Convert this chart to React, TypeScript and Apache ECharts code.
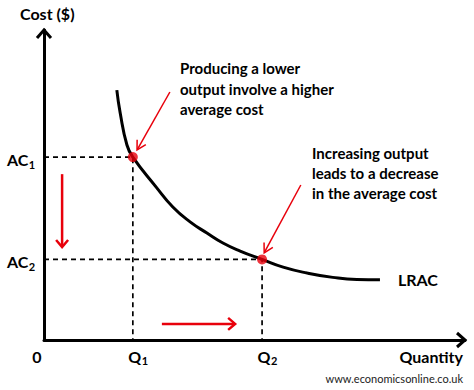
import React, { useEffect, useRef } from "react";
import * as echarts from "echarts";

// Chart values (abstract units, axes 0..10)
const X_MAX = 10;
const Y_MAX = 10;
const curveX = [1.73, 1.81, 1.97, 2.11, 2.66, 3.06, 3.47, 3.87, 4.25, 4.66, 5.18, 5.68, 6.25, 6.86, 7.43, 7.98];
const curveY = [8.06, 7.32, 6.29, 5.9, 4.94, 4.29, 3.81, 3.45, 3.13, 2.87, 2.6, 2.35, 2.16, 2.02, 1.95, 1.94];
const qValues = [2.11, 5.18];
const acValues = [5.9, 2.6];
const subLabels = ["1", "2"];
const curveLabel = "LRAC";
const xTitle = "Quantity";
const yTitle = "Cost ($)";
const annotation1 = ["Producing a lower", "output involve a higher", "average cost"];
const annotation2 = ["Increasing output", "leads to a decrease", "in the average cost"];
const sourceText = "www.economicsonline.co.uk";
// arrows: [fromX, fromY, toX, toY] in data units
const moveArrows = [
  [0.43, 5.35, 0.43, 3.0],
  [2.8, 0.52, 4.54, 0.52],
];
const pointerArrows = [
  [2.99, 8.0, 2.21, 6.13],
  [6.1, 5.0, 5.23, 2.81],
];

const RED = "#e8000b";
const FONT = "Lato, 'Open Sans', sans-serif";

function measure(text: string, size: number, weight: number) {
  const c = document.createElement("canvas").getContext("2d");
  if (!c) return text.length * size * 0.6;
  c.font = `${weight} ${size}px ${FONT}`;
  return c.measureText(text).width;
}

export default function App() {
  const ref = useRef<HTMLDivElement>(null);
  useEffect(() => {
    if (!ref.current) return;
    const chart = echarts.init(ref.current, null, { renderer: "svg" });
    const curve = curveX.map((x, i) => [x, curveY[i]]);
    const dashData: any[] = [];
    qValues.forEach((q, i) => {
      dashData.push([0, acValues[i]], [q, acValues[i]], [q, 0], [null, null]);
    });
    chart.setOption({
      animation: false,
      grid: { left: 44, right: 9, top: 30, bottom: 50 },
      xAxis: {
        type: "value",
        min: 0,
        max: X_MAX,
        axisLine: { show: true, onZero: false, lineStyle: { color: "#000", width: 3 } },
        axisTick: { show: false },
        axisLabel: { show: false },
        splitLine: { show: false },
      },
      yAxis: {
        type: "value",
        min: 0,
        max: Y_MAX,
        axisLine: { show: true, onZero: false, lineStyle: { color: "#000", width: 3 } },
        axisTick: { show: false },
        axisLabel: { show: false },
        splitLine: { show: false },
      },
      series: [
        {
          type: "line",
          data: dashData,
          connectNulls: false,
          symbol: "none",
          lineStyle: { color: "#000", width: 1.7, type: [5, 4] },
          z: 1,
        },
        {
          type: "line",
          data: curve,
          smooth: 0.5,
          symbol: "none",
          lineStyle: { color: "#000", width: 3 },
          z: 2,
        },
        {
          type: "scatter",
          data: qValues.map((q, i) => [q, acValues[i]]),
          symbolSize: 10,
          itemStyle: { color: RED },
          z: 3,
        },
      ],
    });

    const px = (x: number, y: number) => chart.convertToPixel({ gridIndex: 0 }, [x, y]) as number[];
    const arrow = (a: number[], b: number[], color: string, width: number, L: number, W: number) => {
      const dx = b[0] - a[0];
      const dy = b[1] - a[1];
      const len = Math.hypot(dx, dy);
      const ux = dx / len;
      const uy = dy / len;
      const bx = b[0] - ux * L;
      const by = b[1] - uy * L;
      return [
        {
          type: "line",
          shape: { x1: a[0], y1: a[1], x2: b[0] - ux * width * 0.5, y2: b[1] - uy * width * 0.5 },
          style: { stroke: color, lineWidth: width },
          z: 10,
        },
        {
          type: "polyline",
          shape: {
            points: [
              [bx - uy * W, by + ux * W],
              [b[0], b[1]],
              [bx + uy * W, by - ux * W],
            ],
          },
          style: { stroke: color, lineWidth: width, fill: null, lineJoin: "miter" },
          z: 10,
        },
      ];
    };

    const origin = px(0, 0);
    const yTop = px(0, Y_MAX);
    const xEnd = px(X_MAX, 0);
    const els: any[] = [];
    // axis arrow heads
    els.push(...arrow([origin[0], origin[1]], [yTop[0], yTop[1]], "#000", 3, 8, 7).slice(1));
    els.push(...arrow([origin[0], origin[1]], [xEnd[0], xEnd[1]], "#000", 3, 8, 7).slice(1));
    moveArrows.forEach((m) => {
      els.push(...arrow(px(m[0], m[1]), px(m[2], m[3]), RED, 2.5, 7, 6));
    });
    pointerArrows.forEach((m) => {
      els.push(...arrow(px(m[0], m[1]), px(m[2], m[3]), RED, 1.5, 9, 5));
    });

    const t = (text: string, x: number, y: number, align: string, extra: any = {}) => ({
      type: "text",
      x,
      y,
      z: 20,
      style: {
        text,
        x: 0,
        y: 0,
        align,
        verticalAlign: "middle",
        fontFamily: FONT,
        fontWeight: 700,
        fontSize: 16,
        fill: "#000",
        ...extra,
      },
    });
    const subbed = (main: string, sub: string, x: number, y: number) => {
      const w = measure(main, 16, 700);
      els.push(t(main, x, y, "left"));
      els.push(t(sub, x + w + 0.5, y + 4.5, "left", { fontSize: 11 }));
    };

    qValues.forEach((q, i) => {
      const p = px(q, 0);
      subbed("Q", subLabels[i], p[0] - 4.5, p[1] + 16);
    });
    acValues.forEach((a, i) => {
      const p = px(0, a);
      subbed("AC", subLabels[i], 7, p[1] + 2.5);
    });
    els.push(t("0", origin[0] - 7, origin[1] + 16, "center"));
    els.push(t(xTitle, xEnd[0] - 2, origin[1] + 16, "right"));
    els.push(t(yTitle, 20, 13, "left"));
    const last = curve[curve.length - 1];
    const lp = px(last[0], last[1]);
    els.push(t(curveLabel, lp[0] + 18, lp[1], "left"));
    els.push({
      type: "text",
      x: 180,
      y: 58,
      z: 20,
      style: { text: annotation1.join("\n"), align: "left", verticalAlign: "top", fontFamily: FONT, fontWeight: 700, fontSize: 15, lineHeight: 20.5, fill: "#000" },
    });
    els.push({
      type: "text",
      x: 312,
      y: 143,
      z: 20,
      style: { text: annotation2.join("\n"), align: "left", verticalAlign: "top", fontFamily: FONT, fontWeight: 700, fontSize: 15, lineHeight: 20, fill: "#000" },
    });
    els.push(t(sourceText, 463, 378, "right", { fontWeight: 400, fontSize: 11, fill: "#222" }));

    chart.setOption({ graphic: { elements: els } });
    return () => chart.dispose();
  }, []);
  return <div ref={ref} style={{ width: 474, height: 390, position: "absolute", left: 0, top: 0 }} />;
}
